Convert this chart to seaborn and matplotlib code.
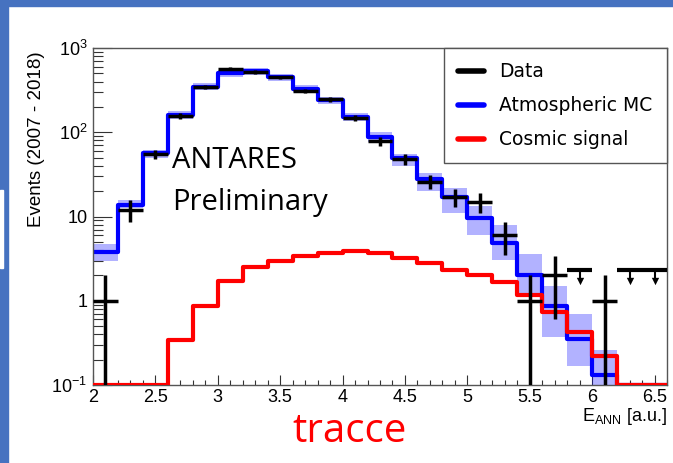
import numpy as np
import matplotlib
matplotlib.use("Agg")
import matplotlib.pyplot as plt
from matplotlib.lines import Line2D
from matplotlib.patches import Rectangle
from matplotlib.ticker import MultipleLocator, FixedLocator, FixedFormatter, FuncFormatter, LogLocator
import seaborn as sns

# bins in E_ANN (width 0.2)
edges = [2.0, 2.2, 2.4, 2.6, 2.8, 3.0, 3.2, 3.4, 3.6, 3.8, 4.0, 4.2,
         4.4, 4.6, 4.8, 5.0, 5.2, 5.4, 5.6, 5.8, 6.0, 6.2, 6.4, 6.6]
centers = [2.1, 2.3, 2.5, 2.7, 2.9, 3.1, 3.3, 3.5, 3.7, 3.9, 4.1, 4.3,
           4.5, 4.7, 4.9, 5.1, 5.3, 5.5, 5.7, 5.9, 6.1, 6.3, 6.5]

# atmospheric MC and its uncertainty band
mc = [3.8, 13.7, 56, 160, 345, 500, 527, 448, 330, 240, 150, 87,
      49, 28, 17, 9.6, 4.9, 2.0, 0.87, 0.35, 0.13, 0, 0]
mc_lo = [2.97, 12.5, 50, 145, 315, 455, 480, 405, 300, 218, 135, 76,
         40, 20, 11, 6.0, 3.05, 1.15, 0.37, 0.17, 0.05, 0, 0]
mc_hi = [4.7, 15.5, 62, 178, 380, 555, 580, 495, 365, 265, 168, 102,
         55, 33, 22, 13.3, 7.9, 3.6, 1.5, 0.70, 0.26, 0, 0]

# cosmic signal
signal = [0, 0, 0, 0.34, 0.87, 1.7, 2.5, 3.0, 3.4, 3.7, 3.9, 3.7,
          3.2, 2.8, 2.3, 2.0, 1.65, 1.18, 0.74, 0.43, 0.22, 0, 0]

# data points
data_x = [2.1, 2.3, 2.5, 2.7, 2.9, 3.1, 3.3, 3.5, 3.7, 3.9, 4.1, 4.3,
          4.5, 4.7, 4.9, 5.1, 5.3, 5.5, 5.7, 6.1]
data_y = [1, 12, 55, 155, 345, 570, 520, 450, 310, 245, 148, 78,
          48, 26, 17, 15, 6, 1, 2, 1]
data_err = [1, 3.5, 7, 12, 19, 24, 23, 21, 18, 16, 12, 9,
            7, 5, 4, 4, 2.5, 1, 1.4, 1]

# upper limits
ul_x = [5.9, 6.3, 6.5]
ul_y = [2.3, 2.3, 2.3]
ul_tip = [1.72, 1.72, 1.72]

sns.set_style("ticks")
plt.rcParams['font.family'] = ['Liberation Sans', 'DejaVu Sans']
plt.rcParams['mathtext.fontset'] = 'custom'
plt.rcParams['mathtext.rm'] = 'Liberation Sans'
plt.rcParams['mathtext.it'] = 'Liberation Sans:italic'
plt.rcParams['text.color'] = 'black'
plt.rcParams['axes.labelcolor'] = 'black'

fig = plt.figure(figsize=(6.73, 4.63), dpi=100)
fig.patch.set_facecolor('white')
# slide border
fig.patches.append(Rectangle((0, 0), 8 / 673, 1, transform=fig.transFigure, color='#4672c0', zorder=0))
fig.patches.append(Rectangle((0, 1 - 6 / 463), 1, 6 / 463, transform=fig.transFigure, color='#4672c0', zorder=0))
fig.patches.append(Rectangle((0, 1 - 268 / 463), 3 / 673, 78 / 463, transform=fig.transFigure, color='white', zorder=1))

ax = fig.add_axes([93 / 673, 1 - 385 / 463, 574 / 673, 337 / 463])

floor = 0.1

# MC uncertainty band
lo = np.array(mc_lo, dtype=float)
hi = np.array(mc_hi, dtype=float)
ax.bar(edges[:-1], hi - lo, bottom=np.maximum(lo, 0.05), width=0.2, align='edge',
       color=(0, 0, 1, 0.3), linewidth=0, zorder=1)

sns.histplot(x=centers, weights=np.maximum(np.array(mc), floor), bins=edges, element="step",
             fill=False, color="#0000ff", linewidth=3, ax=ax, zorder=2)
sns.histplot(x=centers, weights=np.maximum(np.array(signal), floor), bins=edges, element="step",
             fill=False, color="#ff0000", linewidth=3, ax=ax, zorder=3)

dy = np.array(data_y, dtype=float)
de = np.array(data_err, dtype=float)
lower = dy - np.maximum(dy - de, 0.05)
ax.errorbar(data_x, dy, xerr=0.1, yerr=[lower, de], fmt='none', ecolor='black',
            elinewidth=2.5, capsize=0, zorder=5)

# upper limits
ax.errorbar(ul_x, ul_y, xerr=0.1, fmt='none', ecolor='black', elinewidth=3, capsize=0, zorder=5)
ax.vlines(ul_x, ul_tip, ul_y, color='black', linewidth=1.5, zorder=5)
ax.scatter(ul_x, ul_tip, marker='v', s=28, color='black', zorder=5, linewidths=0)

ax.set_yscale('log')
ax.set_xlim(2, 6.6)
ax.set_ylim(0.1, 1000)

ax.xaxis.set_major_locator(MultipleLocator(0.5))
ax.xaxis.set_minor_locator(MultipleLocator(0.1))
ax.xaxis.set_major_formatter(FuncFormatter(lambda v, p: '%g' % v))
ax.yaxis.set_major_locator(FixedLocator([0.1, 1, 10, 100, 1000]))
ax.yaxis.set_major_formatter(FixedFormatter([r'$\mathregular{10^{-1}}$', '1', '10',
                                             r'$\mathregular{10^{2}}$', r'$\mathregular{10^{3}}$']))
ax.yaxis.set_minor_locator(LogLocator(base=10, subs=np.arange(2, 10)))

ax.tick_params(axis='both', which='both', direction='in', top=False, right=False,
               colors='#333333', labelcolor='black', labelsize=13, width=0.8)
ax.tick_params(axis='y', which='major', length=14, pad=4)
ax.tick_params(axis='y', which='minor', length=7)
ax.tick_params(axis='x', which='major', length=7, pad=3)
ax.tick_params(axis='x', which='minor', length=3.5)
for s in ax.spines.values():
    s.set_visible(True)
    s.set_color('#555555')
    s.set_linewidth(1)

ax.set_xlabel(r'E$_{\mathregular{ANN}}$ [a.u.]', fontsize=13, loc='right', labelpad=0)
ax.set_ylabel('Events (2007 - 2018)', fontsize=13.5, loc='top')
ax.yaxis.set_label_coords(-0.083, 0.99)

ax.text(0.138, 0.644, 'ANTARES', transform=ax.transAxes, fontsize=21,
        family=['Open Sans', 'DejaVu Sans'], va='baseline', ha='left')
ax.text(0.138, 0.519, 'Preliminary', transform=ax.transAxes, fontsize=21,
        family=['Open Sans', 'DejaVu Sans'], va='baseline', ha='left')

handles = [Line2D([], [], color='black', linewidth=4),
           Line2D([], [], color='#0000ff', linewidth=4),
           Line2D([], [], color='#ff0000', linewidth=4)]
leg = ax.legend(handles, ['Data', 'Atmospheric MC', 'Cosmic signal'],
                loc='upper left', bbox_to_anchor=(0.611, 0.662, 0.389, 0.338), mode='expand',
                borderaxespad=0, fancybox=False, framealpha=1, edgecolor='#555555',
                prop={'family': 'DejaVu Sans', 'size': 13.5}, handlelength=1.4,
                handletextpad=0.8, labelspacing=0.8, borderpad=0.75)
leg.get_frame().set_linewidth(1)

fig.text(292 / 673, 1 - 442 / 463, 'tracce', color='#ff0000', fontsize=29,
         family=['Open Sans', 'DejaVu Sans'], va='baseline', ha='left')

fig.savefig('out.png', dpi=100)
